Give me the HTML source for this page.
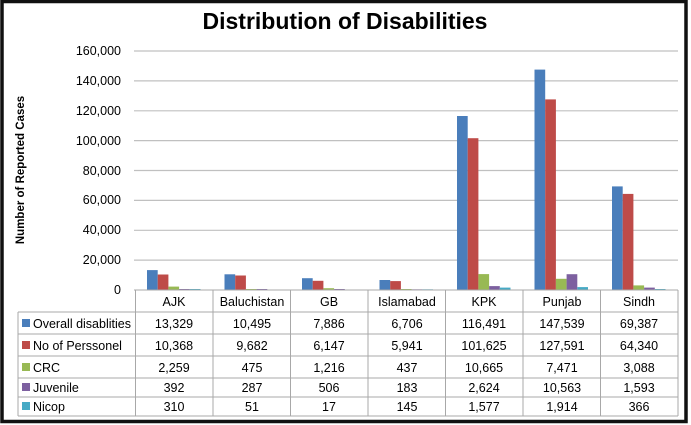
<!DOCTYPE html>
<html><head><meta charset="utf-8"><style>
html,body{margin:0;padding:0;background:#fff;}
svg{display:block;font-family:"Liberation Sans",sans-serif;}
</style></head><body>
<svg width="691" height="425" viewBox="0 0 691 425" xmlns="http://www.w3.org/2000/svg">
<rect x="0" y="0" width="691" height="425" fill="#fff"/>
<rect x="2" y="1.5" width="684" height="420" fill="none" stroke="#111" stroke-width="3.5"/>
<text x="345" y="29" text-anchor="middle" font-size="23" font-weight="bold" fill="#000">Distribution of Disabilities</text>
<text transform="translate(24,170) rotate(-90)" text-anchor="middle" font-size="11.5" font-weight="bold">Number of Reported Cases</text>
<g stroke="#c0c0c0" stroke-width="1.2">
<line x1="134" x2="678" y1="51" y2="51"/>
<line x1="134" x2="678" y1="80.9" y2="80.9"/>
<line x1="134" x2="678" y1="110.8" y2="110.8"/>
<line x1="134" x2="678" y1="140.6" y2="140.6"/>
<line x1="134" x2="678" y1="170.5" y2="170.5"/>
<line x1="134" x2="678" y1="200.4" y2="200.4"/>
<line x1="134" x2="678" y1="230.3" y2="230.3"/>
<line x1="134" x2="678" y1="260.1" y2="260.1"/>
</g>
<g font-size="12.5" text-anchor="end" fill="#000">
<text x="121" y="55">160,000</text>
<text x="121" y="85">140,000</text>
<text x="121" y="115">120,000</text>
<text x="121" y="145">100,000</text>
<text x="121" y="175">80,000</text>
<text x="121" y="204">60,000</text>
<text x="121" y="234">40,000</text>
<text x="121" y="264">20,000</text>
<text x="121" y="294">0</text>
</g>
<g>
<!-- AJK -->
<rect x="147" y="270.1" width="10.7" height="19.9" fill="#4a7ebb"/>
<rect x="157.7" y="274.5" width="10.7" height="15.5" fill="#be4b48"/>
<rect x="168.4" y="286.6" width="10.7" height="3.4" fill="#98b954"/>
<rect x="179.1" y="289" width="10.7" height="1" fill="#7d60a0"/>
<rect x="189.8" y="289" width="10.7" height="1" fill="#46aac5"/>
<!-- Baluchistan -->
<rect x="224.5" y="274.3" width="10.7" height="15.7" fill="#4a7ebb"/>
<rect x="235.2" y="275.5" width="10.7" height="14.5" fill="#be4b48"/>
<rect x="245.9" y="289" width="10.7" height="1" fill="#98b954"/>
<rect x="256.6" y="289" width="10.7" height="1" fill="#7d60a0"/>
<rect x="267.3" y="289.5" width="10.7" height="0.5" fill="#46aac5"/>
<!-- GB -->
<rect x="302" y="278.2" width="10.7" height="11.8" fill="#4a7ebb"/>
<rect x="312.7" y="280.8" width="10.7" height="9.2" fill="#be4b48"/>
<rect x="323.4" y="288.2" width="10.7" height="1.8" fill="#98b954"/>
<rect x="334.1" y="289" width="10.7" height="1" fill="#7d60a0"/>
<rect x="344.8" y="289.5" width="10.7" height="0.5" fill="#46aac5"/>
<!-- Islamabad -->
<rect x="379.5" y="280" width="10.7" height="10" fill="#4a7ebb"/>
<rect x="390.2" y="281.1" width="10.7" height="8.9" fill="#be4b48"/>
<rect x="400.9" y="289" width="10.7" height="1" fill="#98b954"/>
<rect x="411.6" y="289.3" width="10.7" height="0.7" fill="#7d60a0"/>
<rect x="422.3" y="289.3" width="10.7" height="0.7" fill="#46aac5"/>
<!-- KPK -->
<rect x="457" y="116" width="10.7" height="174" fill="#4a7ebb"/>
<rect x="467.7" y="138.2" width="10.7" height="151.8" fill="#be4b48"/>
<rect x="478.4" y="274.1" width="10.7" height="15.9" fill="#98b954"/>
<rect x="489.1" y="286.1" width="10.7" height="3.9" fill="#7d60a0"/>
<rect x="499.8" y="287.6" width="10.7" height="2.4" fill="#46aac5"/>
<!-- Punjab -->
<rect x="534.5" y="69.6" width="10.7" height="220.4" fill="#4a7ebb"/>
<rect x="545.2" y="99.4" width="10.7" height="190.6" fill="#be4b48"/>
<rect x="555.9" y="278.8" width="10.7" height="11.2" fill="#98b954"/>
<rect x="566.6" y="274.2" width="10.7" height="15.8" fill="#7d60a0"/>
<rect x="577.3" y="287.1" width="10.7" height="2.9" fill="#46aac5"/>
<!-- Sindh -->
<rect x="612" y="186.4" width="10.7" height="103.6" fill="#4a7ebb"/>
<rect x="622.7" y="193.9" width="10.7" height="96.1" fill="#be4b48"/>
<rect x="633.4" y="285.4" width="10.7" height="4.6" fill="#98b954"/>
<rect x="644.1" y="287.6" width="10.7" height="2.4" fill="#7d60a0"/>
<rect x="654.8" y="289" width="10.7" height="1" fill="#46aac5"/>
</g>
<g stroke="#a8a8a8" stroke-width="1" fill="none">
<line x1="134" x2="678" y1="290" y2="290"/>
<line x1="18" x2="678" y1="312" y2="312"/>
<line x1="18" x2="678" y1="334" y2="334"/>
<line x1="18" x2="678" y1="356" y2="356"/>
<line x1="18" x2="678" y1="378" y2="378"/>
<line x1="18" x2="678" y1="397" y2="397"/>
<line x1="18" x2="678" y1="416" y2="416"/>
<line x1="18" x2="18" y1="312" y2="416"/>
<line x1="135.5" x2="135.5" y1="290" y2="416"/>
<line x1="213" x2="213" y1="290" y2="416"/>
<line x1="290.5" x2="290.5" y1="290" y2="416"/>
<line x1="368" x2="368" y1="290" y2="416"/>
<line x1="445.5" x2="445.5" y1="290" y2="416"/>
<line x1="523" x2="523" y1="290" y2="416"/>
<line x1="600.5" x2="600.5" y1="290" y2="416"/>
<line x1="678" x2="678" y1="290" y2="416"/>
</g>
<g font-size="12.5" text-anchor="middle" fill="#000">
<text x="174" y="306">AJK</text><text x="252" y="306">Baluchistan</text><text x="329" y="306">GB</text><text x="407" y="306">Islamabad</text><text x="484" y="306">KPK</text><text x="562" y="306">Punjab</text><text x="639" y="306">Sindh</text>
<text x="174" y="328">13,329</text><text x="252" y="328">10,495</text><text x="329" y="328">7,886</text><text x="407" y="328">6,706</text><text x="484" y="328">116,491</text><text x="562" y="328">147,539</text><text x="639" y="328">69,387</text>
<text x="174" y="350">10,368</text><text x="252" y="350">9,682</text><text x="329" y="350">6,147</text><text x="407" y="350">5,941</text><text x="484" y="350">101,625</text><text x="562" y="350">127,591</text><text x="639" y="350">64,340</text>
<text x="174" y="372">2,259</text><text x="252" y="372">475</text><text x="329" y="372">1,216</text><text x="407" y="372">437</text><text x="484" y="372">10,665</text><text x="562" y="372">7,471</text><text x="639" y="372">3,088</text>
<text x="174" y="392">392</text><text x="252" y="392">287</text><text x="329" y="392">506</text><text x="407" y="392">183</text><text x="484" y="392">2,624</text><text x="562" y="392">10,563</text><text x="639" y="392">1,593</text>
<text x="174" y="411">310</text><text x="252" y="411">51</text><text x="329" y="411">17</text><text x="407" y="411">145</text><text x="484" y="411">1,577</text><text x="562" y="411">1,914</text><text x="639" y="411">366</text>
</g>
<g font-size="12.5" fill="#000">
<rect x="22" y="319" width="8" height="8" fill="#4a7ebb"/><text x="33" y="328">Overall disablities</text>
<rect x="22" y="341" width="8" height="8" fill="#be4b48"/><text x="33" y="350">No of Perssonel</text>
<rect x="22" y="363" width="8" height="8" fill="#98b954"/><text x="33" y="372">CRC</text>
<rect x="22" y="383" width="8" height="8" fill="#7d60a0"/><text x="33" y="392">Juvenile</text>
<rect x="22" y="402" width="8" height="8" fill="#46aac5"/><text x="33" y="411">Nicop</text>
</g>
</svg>
</body></html>
